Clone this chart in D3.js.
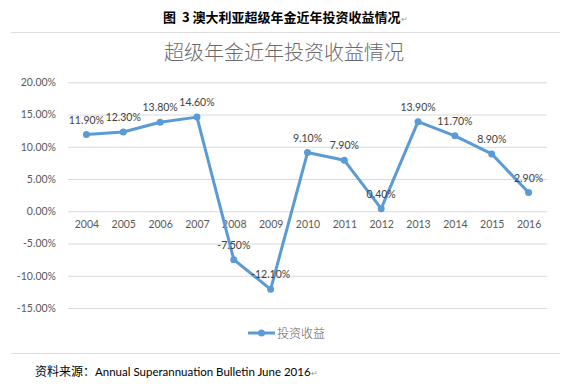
<!DOCTYPE html>
<html>
<head>
<meta charset="utf-8">
<script src="https://cdn.jsdelivr.net/npm/d3@7"></script>
<style>
  body { margin: 0; background: #fff; }
  svg { display: block; }
</style>
</head>
<body>
<div id="chart"></div>
<script>
//-- DATA --\\
var years = ["2004", "2005", "2006", "2007", "2008", "2009", "2010", "2011", "2012", "2013", "2014", "2015", "2016"];
var returns = [11.9, 12.3, 13.8, 14.6, -7.5, -12.1, 9.1, 7.9, 0.4, 13.9, 11.7, 8.9, 2.9];
var yTicks = [-15, -10, -5, 0, 5, 10, 15, 20];
var seriesName = "投资收益";
var figTitle = "图\u00a0\u00a03 澳大利亚超级年金近年投资收益情况";
var chartTitle = "超级年金近年投资收益情况";
var sourceLabel = "资料来源：";
var sourceText = "Annual Superannuation Bulletin June 2016";

//-- CONSTANTS --\\
var width = 569;
var height = 384;
var lineCol = "#5b9bd5";
var gridCol = "#d9d9d9";
var axisTextCol = "#595959";
var labelCol = "#404040";
var cjkFont = "'Noto Sans CJK SC', sans-serif";
var numFont = "Lato, 'Noto Sans', sans-serif";

/* percent with a plain hyphen for negatives, like Excel */
function pct(d) {
    return d.toFixed(2) + "%";
}

var svg = d3.select("#chart").append("svg")
    .attr("width", width)
    .attr("height", height);

// figure caption
var cap = svg.append("text")
    .attr("x", 163).attr("y", 22)
    .style("font-family", cjkFont)
    .style("font-size", "13px")
    .style("font-weight", "bold")
    .style("fill", "#000")
    .text(figTitle);
cap.append("tspan")
    .style("font-size", "8px").style("font-weight", "normal").style("fill", "#999")
    .text("↵");

// chart border lines (top / bottom)
svg.append("line").attr("x1", 11).attr("x2", 560).attr("y1", 32.5).attr("y2", 32.5)
    .attr("stroke", "#dedede");
svg.append("line").attr("x1", 11).attr("x2", 560).attr("y1", 353.5).attr("y2", 353.5)
    .attr("stroke", "#dedede");

// chart title
svg.append("text")
    .attr("x", 284).attr("y", 60)
    .attr("text-anchor", "middle")
    .style("font-family", cjkFont)
    .style("font-size", "20px")
    .style("font-weight", 300)
    .style("fill", "#6a6a6a")
    .text(chartTitle);

//-- scales --\\
var x = d3.scalePoint().domain(years).range([68, 547]).padding(0.5);
var y = d3.scaleLinear().domain([-15, 20]).range([308, 82.3]);

// gridlines
svg.append("g")
    .attr("transform", "translate(68,0)")
    .call(d3.axisLeft(y).tickValues(yTicks).tickSize(-(547 - 68)).tickFormat(""))
    .call(function (g) {
        g.select(".domain").remove();
        g.selectAll("line").attr("stroke", gridCol).attr("stroke-width", 1);
    });

// y labels
svg.append("g")
    .attr("transform", "translate(56,0)")
    .call(d3.axisLeft(y).tickValues(yTicks).tickSize(0).tickPadding(0).tickFormat(pct))
    .call(function (g) {
        g.select(".domain").remove();
        g.selectAll("text")
            .style("font-family", numFont)
            .style("font-size", "10.5px")
            .style("fill", axisTextCol);
    });

// x labels (at zero line)
svg.append("g")
    .attr("transform", "translate(0," + (y(0) + 9) + ")")
    .call(d3.axisBottom(x).tickSize(0).tickPadding(0))
    .call(function (g) {
        g.select(".domain").remove();
        g.selectAll("text")
            .style("font-family", numFont)
            .style("font-size", "10.5px")
            .style("fill", axisTextCol);
    });

//-- series --\\
var line = d3.line()
    .x(function (d, i) { return x(years[i]); })
    .y(function (d) { return y(d); });

svg.append("path")
    .datum(returns)
    .attr("d", line)
    .attr("fill", "none")
    .attr("stroke", lineCol)
    .attr("stroke-width", 3)
    .attr("stroke-linejoin", "round");

svg.selectAll(".pt")
    .data(returns)
    .enter().append("circle")
    .attr("class", "pt")
    .attr("cx", function (d, i) { return x(years[i]); })
    .attr("cy", function (d) { return y(d); })
    .attr("r", 3.5)
    .attr("fill", lineCol);

svg.selectAll(".lbl")
    .data(returns)
    .enter().append("text")
    .attr("class", "lbl")
    .attr("x", function (d, i) { return x(years[i]); })
    .attr("y", function (d) { return y(d) - 11; })
    .attr("text-anchor", "middle")
    .style("font-family", numFont)
    .style("font-size", "10.5px")
    .style("fill", labelCol)
    .text(pct);

//-- legend --\\
var lg = svg.append("g").attr("transform", "translate(248,333)");
lg.append("line").attr("x1", 0).attr("x2", 27).attr("y1", 0).attr("y2", 0)
    .attr("stroke", lineCol).attr("stroke-width", 3);
lg.append("circle").attr("cx", 13.5).attr("cy", 0).attr("r", 3.5).attr("fill", lineCol);
lg.append("text")
    .attr("x", 29).attr("y", 4.5)
    .style("font-family", cjkFont)
    .style("font-size", "12px")
    .style("font-weight", 300)
    .style("fill", axisTextCol)
    .text(seriesName);

//-- source --\\
var src = svg.append("text")
    .attr("x", 35).attr("y", 376)
    .style("fill", "#000");
src.append("tspan")
    .style("font-family", cjkFont)
    .style("font-size", "12px")
    .text(sourceLabel);
src.append("tspan")
    .style("font-family", numFont)
    .style("font-size", "11.5px")
    .text(sourceText);
src.append("tspan")
    .style("font-size", "8px").style("fill", "#999")
    .text("↵");
</script>
</body>
</html>
